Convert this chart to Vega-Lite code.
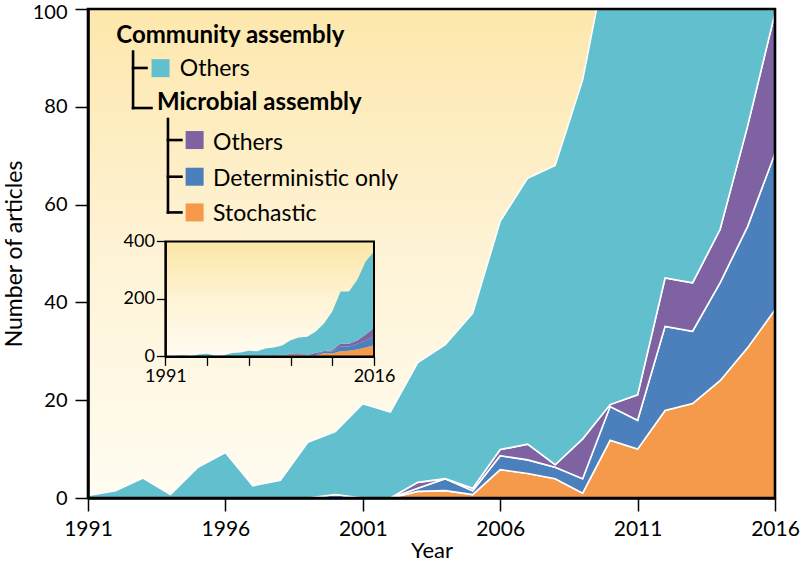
{
  "$schema": "https://vega.github.io/schema/vega-lite/v6.json",
  "width": 687,
  "height": 489,
  "autosize": "none",
  "padding": {"left": 88, "top": 9, "right": 25, "bottom": 67},
  "background": "white",
  "config": {
    "view": {"stroke": null},
    "font": "Lato",
    "axis": {"grid": false, "labelColor": "black", "titleColor": "black", "domainColor": "black", "tickColor": "black", "labelFont": "Lato", "titleFont": "Lato", "titleFontWeight": "normal"}
  },
  "datasets": {
    "articles": [
      {"year": 1991, "Stochastic": 0, "Deterministic only": 0, "Microbial others": 0, "Community others": 0.5},
      {"year": 1992, "Stochastic": 0, "Deterministic only": 0, "Microbial others": 0, "Community others": 1.5},
      {"year": 1993, "Stochastic": 0, "Deterministic only": 0, "Microbial others": 0, "Community others": 4.1},
      {"year": 1994, "Stochastic": 0, "Deterministic only": 0, "Microbial others": 0, "Community others": 0.7},
      {"year": 1995, "Stochastic": 0, "Deterministic only": 0, "Microbial others": 0, "Community others": 6.3},
      {"year": 1996, "Stochastic": 0, "Deterministic only": 0, "Microbial others": 0, "Community others": 9.3},
      {"year": 1997, "Stochastic": 0, "Deterministic only": 0, "Microbial others": 0, "Community others": 2.5},
      {"year": 1998, "Stochastic": 0, "Deterministic only": 0, "Microbial others": 0, "Community others": 3.6},
      {"year": 1999, "Stochastic": 0, "Deterministic only": 0, "Microbial others": 0, "Community others": 11.4},
      {"year": 2000, "Stochastic": 0, "Deterministic only": 0.7, "Microbial others": 0, "Community others": 12.9},
      {"year": 2001, "Stochastic": 0, "Deterministic only": 0, "Microbial others": 0, "Community others": 19.3},
      {"year": 2002, "Stochastic": 0, "Deterministic only": 0, "Microbial others": 0, "Community others": 17.6},
      {"year": 2003, "Stochastic": 1.35, "Deterministic only": 0.65, "Microbial others": 1.2, "Community others": 24.5},
      {"year": 2004, "Stochastic": 1.5, "Deterministic only": 2.45, "Microbial others": 0, "Community others": 27.4},
      {"year": 2005, "Stochastic": 0.7, "Deterministic only": 0.8, "Microbial others": 0.5, "Community others": 35.8},
      {"year": 2006, "Stochastic": 5.8, "Deterministic only": 2.85, "Microbial others": 1.25, "Community others": 46.7},
      {"year": 2007, "Stochastic": 5.0, "Deterministic only": 2.8, "Microbial others": 3.2, "Community others": 54.4},
      {"year": 2008, "Stochastic": 3.95, "Deterministic only": 2.35, "Microbial others": 0.5, "Community others": 61.2},
      {"year": 2009, "Stochastic": 1.0, "Deterministic only": 2.95, "Microbial others": 8.15, "Community others": 73.4},
      {"year": 2010, "Stochastic": 11.8, "Deterministic only": 6.9, "Microbial others": 0.4, "Community others": 95},
      {"year": 2011, "Stochastic": 10.0, "Deterministic only": 5.9, "Microbial others": 5.2, "Community others": 135},
      {"year": 2012, "Stochastic": 17.9, "Deterministic only": 17.2, "Microbial others": 9.9, "Community others": 181},
      {"year": 2013, "Stochastic": 19.3, "Deterministic only": 14.8, "Microbial others": 9.9, "Community others": 182},
      {"year": 2014, "Stochastic": 24.0, "Deterministic only": 20.0, "Microbial others": 10.9, "Community others": 212},
      {"year": 2015, "Stochastic": 30.7, "Deterministic only": 24.8, "Microbial others": 20.5, "Community others": 254},
      {"year": 2016, "Stochastic": 38.5, "Deterministic only": 32.0, "Microbial others": 28.7, "Community others": 266}
    ],
    "series": [
      {"series": "Stochastic", "rank": 1},
      {"series": "Deterministic only", "rank": 2},
      {"series": "Microbial others", "rank": 3},
      {"series": "Community others", "rank": 4}
    ]
  },
  "layer": [
    {
      "layer": [
        {
          "data": {"values": [{"panel": "main"}]},
          "mark": {"type": "rect", "fill": {"gradient": "linear", "x1": 0, "y1": 0, "x2": 0, "y2": 1, "stops": [{"offset": 0, "color": "#FDE7AC"}, {"offset": 0.5, "color": "#FEF3D6"}, {"offset": 1, "color": "#FFFCF1"}]}},
          "encoding": {
            "x": {"datum": 1991, "type": "quantitative"},
            "x2": {"datum": 2016},
            "y": {"datum": 0, "type": "quantitative"},
            "y2": {"datum": 100}
          }
        },
        {
          "data": {"name": "articles"},
          "transform": [
            {"fold": ["Stochastic", "Deterministic only", "Microbial others", "Community others"], "as": ["series", "n"]},
            {"lookup": "series", "from": {"data": {"name": "series"}, "key": "series", "fields": ["rank"]}}
          ],
          "mark": {"type": "area", "clip": true, "stroke": "white", "strokeWidth": 1.6, "strokeJoin": "miter"},
          "encoding": {
            "x": {"field": "year", "type": "quantitative",
              "scale": {"domain": [1991, 2016], "nice": false, "zero": false},
              "axis": {"values": [1991, 1996, 2001, 2006, 2011, 2016], "format": "d", "title": "Year", "titleFontSize": 22, "labelFontSize": 21, "tickSize": 13, "tickWidth": 1.5, "domainWidth": 2.5, "labelPadding": 7, "titlePadding": 1, "zindex": 1, "labelFlush": false}},
            "y": {"field": "n", "type": "quantitative", "stack": "zero",
              "scale": {"domain": [0, 100], "nice": false},
              "axis": {"values": [0, 20, 40, 60, 80, 100], "title": "Number of articles", "titleFontSize": 23, "labelFontSize": 20, "tickSize": 13, "tickWidth": 1.5, "domainWidth": 2.5, "labelPadding": 8, "titlePadding": 6, "zindex": 1,
                "labelOffset": {"condition": {"test": "datum.value == 100", "value": 3}, "value": 0}}},
            "color": {"field": "series", "type": "nominal",
              "scale": {"domain": ["Stochastic", "Deterministic only", "Microbial others", "Community others"], "range": ["#F59A4B", "#4C80BC", "#7F62A2", "#62BFCD"]},
              "legend": null},
            "order": {"field": "rank", "type": "quantitative"}
          }
        },
        {
          "data": {"values": [{"panel": "main"}]},
          "mark": {"type": "rect", "fill": null, "stroke": "black", "strokeWidth": 2.6},
          "encoding": {
            "x": {"datum": 1991, "type": "quantitative"},
            "x2": {"datum": 2016},
            "y": {"datum": 0, "type": "quantitative"},
            "y2": {"datum": 100}
          }
        },
        {
          "data": {"values": [{"label": "Community assembly"}]},
          "mark": {"type": "text", "align": "left", "baseline": "alphabetic", "fontSize": 24, "fontWeight": "bold", "color": "black"},
          "encoding": {"x": {"datum": 1992.03, "type": "quantitative"}, "y": {"datum": 93.05, "type": "quantitative"}, "text": {"field": "label"}}
        },
        {
          "data": {"values": [{"label": "Microbial assembly"}]},
          "mark": {"type": "text", "align": "left", "baseline": "alphabetic", "fontSize": 24, "fontWeight": "bold", "color": "black"},
          "encoding": {"x": {"datum": 1993.51, "type": "quantitative"}, "y": {"datum": 79.4, "type": "quantitative"}, "text": {"field": "label"}}
        },
        {
          "data": {"values": [{"label": "Others"}]},
          "mark": {"type": "text", "align": "left", "baseline": "alphabetic", "fontSize": 23, "color": "black"},
          "encoding": {"x": {"datum": 1994.34, "type": "quantitative"}, "y": {"datum": 86.2, "type": "quantitative"}, "text": {"field": "label"}}
        },
        {
          "data": {"values": [{"label": "Others"}]},
          "mark": {"type": "text", "align": "left", "baseline": "alphabetic", "fontSize": 23, "color": "black"},
          "encoding": {"x": {"datum": 1995.55, "type": "quantitative"}, "y": {"datum": 71.2, "type": "quantitative"}, "text": {"field": "label"}}
        },
        {
          "data": {"values": [{"label": "Deterministic only"}]},
          "mark": {"type": "text", "align": "left", "baseline": "alphabetic", "fontSize": 23, "color": "black"},
          "encoding": {"x": {"datum": 1995.55, "type": "quantitative"}, "y": {"datum": 63.9, "type": "quantitative"}, "text": {"field": "label"}}
        },
        {
          "data": {"values": [{"label": "Stochastic"}]},
          "mark": {"type": "text", "align": "left", "baseline": "alphabetic", "fontSize": 23, "color": "black"},
          "encoding": {"x": {"datum": 1995.55, "type": "quantitative"}, "y": {"datum": 56.6, "type": "quantitative"}, "text": {"field": "label"}}
        },
        {
          "data": {"values": [{"swatch": "Community others"}]},
          "mark": {"type": "square", "size": 324, "opacity": 1, "filled": true},
          "encoding": {"x": {"datum": 1993.64, "type": "quantitative"}, "y": {"datum": 87.9, "type": "quantitative"}, "color": {"field": "swatch", "type": "nominal", "legend": null}}
        },
        {
          "data": {"values": [{"swatch": "Microbial others"}]},
          "mark": {"type": "square", "size": 324, "opacity": 1, "filled": true},
          "encoding": {"x": {"datum": 1994.88, "type": "quantitative"}, "y": {"datum": 73.2, "type": "quantitative"}, "color": {"field": "swatch", "type": "nominal", "legend": null}}
        },
        {
          "data": {"values": [{"swatch": "Deterministic only"}]},
          "mark": {"type": "square", "size": 324, "opacity": 1, "filled": true},
          "encoding": {"x": {"datum": 1994.88, "type": "quantitative"}, "y": {"datum": 65.7, "type": "quantitative"}, "color": {"field": "swatch", "type": "nominal", "legend": null}}
        },
        {
          "data": {"values": [{"swatch": "Stochastic"}]},
          "mark": {"type": "square", "size": 324, "opacity": 1, "filled": true},
          "encoding": {"x": {"datum": 1994.88, "type": "quantitative"}, "y": {"datum": 58.4, "type": "quantitative"}, "color": {"field": "swatch", "type": "nominal", "legend": null}}
        },
        {
          "data": {"values": [{"line": "tree1"}]},
          "mark": {"type": "rule", "color": "black", "strokeWidth": 2.6, "strokeCap": "square"},
          "encoding": {"x": {"datum": 1992.64, "type": "quantitative"}, "y": {"datum": 91.3, "type": "quantitative"}, "y2": {"datum": 79.75}}
        },
        {
          "data": {"values": [{"line": "tree1a"}]},
          "mark": {"type": "rule", "color": "black", "strokeWidth": 2.6, "strokeCap": "square"},
          "encoding": {"x": {"datum": 1992.64, "type": "quantitative"}, "x2": {"datum": 1993.13}, "y": {"datum": 87.94, "type": "quantitative"}}
        },
        {
          "data": {"values": [{"line": "tree1b"}]},
          "mark": {"type": "rule", "color": "black", "strokeWidth": 2.6, "strokeCap": "square"},
          "encoding": {"x": {"datum": 1992.64, "type": "quantitative"}, "x2": {"datum": 1993.31}, "y": {"datum": 79.75, "type": "quantitative"}}
        },
        {
          "data": {"values": [{"line": "tree2"}]},
          "mark": {"type": "rule", "color": "black", "strokeWidth": 2.6, "strokeCap": "square"},
          "encoding": {"x": {"datum": 1993.91, "type": "quantitative"}, "y": {"datum": 77.5, "type": "quantitative"}, "y2": {"datum": 58.4}}
        },
        {
          "data": {"values": [{"line": "tree2a"}]},
          "mark": {"type": "rule", "color": "black", "strokeWidth": 2.6, "strokeCap": "square"},
          "encoding": {"x": {"datum": 1993.91, "type": "quantitative"}, "x2": {"datum": 1994.4}, "y": {"datum": 73.2, "type": "quantitative"}}
        },
        {
          "data": {"values": [{"line": "tree2b"}]},
          "mark": {"type": "rule", "color": "black", "strokeWidth": 2.6, "strokeCap": "square"},
          "encoding": {"x": {"datum": 1993.91, "type": "quantitative"}, "x2": {"datum": 1994.4}, "y": {"datum": 65.7, "type": "quantitative"}}
        },
        {
          "data": {"values": [{"line": "tree2c"}]},
          "mark": {"type": "rule", "color": "black", "strokeWidth": 2.6, "strokeCap": "square"},
          "encoding": {"x": {"datum": 1993.91, "type": "quantitative"}, "x2": {"datum": 1994.4}, "y": {"datum": 58.4, "type": "quantitative"}}
        }
      ]
    },
    {
      "layer": [
        {
          "data": {"values": [{"panel": "inset"}]},
          "mark": {"type": "rect", "fill": {"gradient": "linear", "x1": 0, "y1": 0, "x2": 0, "y2": 1, "stops": [{"offset": 0, "color": "#FCE6A6"}, {"offset": 0.5, "color": "#FEF3D4"}, {"offset": 1, "color": "#FFFCF2"}]}},
          "encoding": {
            "x": {"datum": 1991, "type": "quantitative"},
            "x2": {"datum": 2016},
            "y": {"datum": 0, "type": "quantitative"},
            "y2": {"datum": 400}
          }
        },
        {
          "data": {"name": "articles"},
          "transform": [
            {"fold": ["Stochastic", "Deterministic only", "Microbial others", "Community others"], "as": ["series", "n"]},
            {"lookup": "series", "from": {"data": {"name": "series"}, "key": "series", "fields": ["rank"]}}
          ],
          "mark": {"type": "area"},
          "encoding": {
            "x": {"field": "year", "type": "quantitative",
              "scale": {"domain": [1991, 2016], "nice": false, "zero": false, "range": [77.4, 286]},
              "axis": {"orient": "bottom", "offset": -141.6, "values": [1991, 1996, 2001, 2006, 2011, 2016], "format": "d", "labelExpr": "datum.value == 1991 || datum.value == 2016 ? datum.label : ''", "title": null, "labelFontSize": 18, "tickSize": 9, "tickWidth": 1.3, "domainWidth": 2, "labelPadding": 2, "zindex": 1, "labelFlush": false}},
            "y": {"field": "n", "type": "quantitative", "stack": "zero",
              "scale": {"domain": [0, 400], "nice": false, "range": [347.4, 232.4]},
              "axis": {"orient": "left", "offset": -77.4, "values": [0, 200, 400], "title": null, "labelFontSize": 18, "tickSize": 9, "tickWidth": 1.3, "domainWidth": 2, "labelPadding": 2, "zindex": 1}},
            "color": {"field": "series", "type": "nominal", "legend": null},
            "order": {"field": "rank", "type": "quantitative"}
          }
        },
        {
          "data": {"values": [{"panel": "inset"}]},
          "mark": {"type": "rect", "fill": null, "stroke": "black", "strokeWidth": 2},
          "encoding": {
            "x": {"datum": 1991, "type": "quantitative"},
            "x2": {"datum": 2016},
            "y": {"datum": 0, "type": "quantitative"},
            "y2": {"datum": 400}
          }
        }
      ]
    }
  ],
  "resolve": {"scale": {"x": "independent", "y": "independent"}, "axis": {"x": "independent", "y": "independent"}}
}
